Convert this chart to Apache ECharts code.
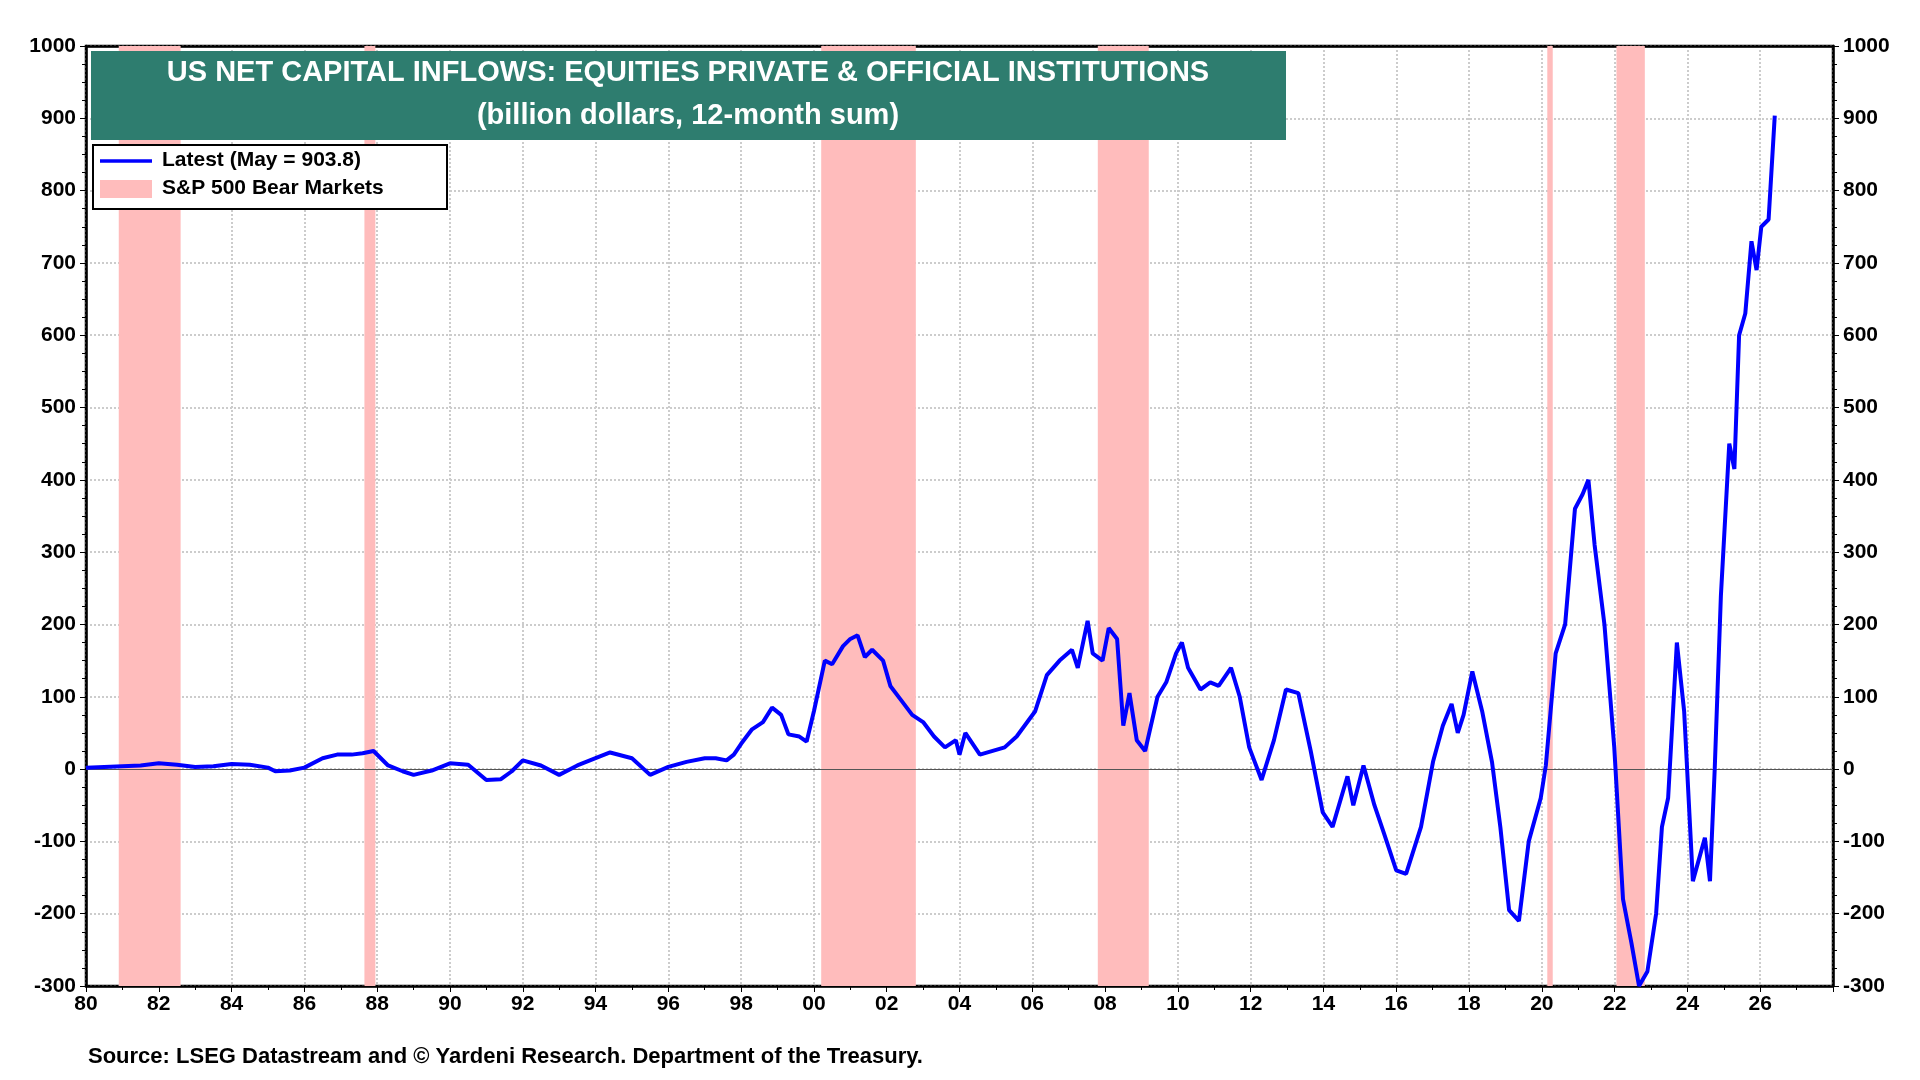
<!DOCTYPE html>
<html><head><meta charset="utf-8">
<script src="https://cdn.jsdelivr.net/npm/echarts@6/dist/echarts.min.js"></script>
<style>html,body{margin:0;padding:0;background:#fff}#c{width:1920px;height:1080px}</style>
</head><body><div id="c"></div>
<script>
const years = [1980,1980.5,1981,1981.5,1982,1982.5,1983,1983.5,1984,1984.5,1985,1985.2,1985.6,1986,1986.5,1986.9,1987.3,1987.6,1987.9,1988.3,1988.7,1989,1989.5,1990,1990.5,1991,1991.4,1991.7,1992,1992.5,1993,1993.5,1994,1994.4,1995,1995.5,1996,1996.5,1997,1997.3,1997.6,1997.8,1998,1998.3,1998.6,1998.85,1999.1,1999.3,1999.6,1999.8,2000,2000.3,2000.5,2000.8,2001,2001.2,2001.4,2001.6,2001.9,2002.1,2002.4,2002.7,2003,2003.3,2003.6,2003.9,2004,2004.16,2004.56,2005.24,2005.57,2006.08,2006.4,2006.75,2007.09,2007.25,2007.52,2007.66,2007.93,2008.1,2008.33,2008.5,2008.67,2008.87,2009.1,2009.44,2009.68,2009.95,2010.11,2010.28,2010.62,2010.89,2011.12,2011.46,2011.7,2011.96,2012.3,2012.64,2012.97,2013.31,2013.65,2013.98,2014.25,2014.66,2014.82,2015.1,2015.4,2015.67,2016.0,2016.27,2016.68,2017.01,2017.28,2017.52,2017.69,2017.85,2018.09,2018.36,2018.63,2018.86,2019.1,2019.37,2019.64,2019.97,2020.11,2020.38,2020.64,2020.91,2021.12,2021.28,2021.45,2021.72,2021.99,2022.23,2022.46,2022.67,2022.9,2023.14,2023.3,2023.47,2023.71,2023.91,2024.15,2024.48,2024.62,2024.75,2024.92,2025.15,2025.29,2025.42,2025.59,2025.76,2025.9,2026.03,2026.23,2026.4];
const values = [2,3,4,5,8,6,3,4,7,6,2,-3,-2,2,15,20,20,22,25,5,-3,-8,-2,8,6,-15,-14,-3,12,5,-8,5,15,23,15,-8,3,10,15,15,12,20,35,55,65,85,75,48,45,38,80,150,145,170,180,185,155,165,150,115,95,75,65,45,30,40,20,50,20,30,45,80,130,150,165,140,205,160,150,195,180,60,105,40,25,100,120,160,175,140,110,120,115,140,100,30,-15,40,110,105,25,-60,-80,-10,-50,5,-50,-90,-140,-145,-80,10,60,90,50,75,135,80,10,-80,-195,-210,-100,-40,5,160,200,360,380,400,310,200,30,-180,-240,-300,-280,-200,-80,-40,175,80,-155,-95,-155,0,240,450,415,600,630,730,690,750,760,903.8];
const bearStarts = [1980.9,1987.65,2000.2,2007.8,2020.15,2022.05];
const bearEnds = [1982.6,1987.95,2002.8,2009.2,2020.3,2022.83];

const chart = echarts.init(document.getElementById('c'));
const F = '"Liberation Sans", Arial, sans-serif';
const axisLab = {fontFamily:F, fontWeight:'bold', fontSize:21, color:'#000'};
const yAxisCommon = {type:'value', min:-300, max:1000, interval:100,
  axisLine:{show:true,lineStyle:{color:'#000',width:2.5}},
  axisTick:{show:true,length:6,lineStyle:{color:'#000'}},
  minorTick:{show:true,splitNumber:4,length:4,lineStyle:{color:'#000'}},
  axisLabel:Object.assign({margin:10,formatter:v=>String(v)},axisLab)};
chart.setOption({
  animation:false,
  grid:{left:86,right:87,top:46,bottom:94,show:true,borderColor:'#000',borderWidth:2.5},
  xAxis:[{type:'value',min:1980,max:2028,interval:2,
    axisLine:{onZero:false,lineStyle:{color:'#000',width:2.5}},
    axisTick:{length:6,lineStyle:{color:'#000'}},
    minorTick:{show:true,splitNumber:2,length:4,lineStyle:{color:'#000'}},
    splitLine:{show:true,lineStyle:{color:'#ccc',type:'dotted',width:2}},
    axisLabel:Object.assign({margin:8,formatter:v=> v>=2028?'':String(v%100).padStart(2,'0')},axisLab)},
    {type:'value',position:'top',min:1980,max:2028,interval:2,
    axisLine:{onZero:false,show:true,lineStyle:{color:'#000',width:2.5}},
    axisTick:{show:false},axisLabel:{show:false},splitLine:{show:false}}],
  yAxis:[Object.assign({position:'left',splitLine:{show:true,lineStyle:{color:'#ccc',type:'dotted',width:2}}},yAxisCommon),
         Object.assign({position:'right',splitLine:{show:false}},yAxisCommon)],
  graphic:[
    {type:'rect',left:91,top:51,shape:{width:1195,height:89},style:{fill:'#2e7d6f'},z:10},
    {type:'text',x:688,y:58,style:{text:'US NET CAPITAL INFLOWS: EQUITIES PRIVATE & OFFICIAL INSTITUTIONS',fill:'#fff',font:'bold 29px '+F,textAlign:'center'},z:11},
    {type:'text',x:688,y:101,style:{text:'(billion dollars, 12-month sum)',fill:'#fff',font:'bold 29px '+F,textAlign:'center'},z:11},
    {type:'rect',left:92,top:144,shape:{width:354,height:64},style:{fill:'#fff',stroke:'#000',lineWidth:2},z:10},
    {type:'line',shape:{x1:100,y1:161,x2:152,y2:161},style:{stroke:'#0000ff',lineWidth:3.5},z:11},
    {type:'rect',shape:{x:100,y:180,width:52,height:18},style:{fill:'#ffbcbc'},z:11},
    {type:'text',x:162,y:150,style:{text:'Latest (May = 903.8)',fill:'#000',font:'bold 21px '+F},z:11},
    {type:'text',x:162,y:178,style:{text:'S&P 500 Bear Markets',fill:'#000',font:'bold 21px '+F},z:11},
    {type:'text',left:88,top:1046,style:{text:'Source: LSEG Datastream and © Yardeni Research. Department of the Treasury.',fill:'#000',font:'bold 22px '+F},z:11}
  ],
  series:[{
    type:'line', data:years.map((y,i)=>[y,values[i]]), showSymbol:false,
    lineStyle:{color:'#0000ff',width:4}, z:5,
    markArea:{silent:true,itemStyle:{color:'#ffbcbc'},data:bearStarts.map((s,i)=>[{xAxis:s},{xAxis:bearEnds[i]}])},
    markLine:{silent:true,symbol:'none',label:{show:false},lineStyle:{color:'#555',type:'solid',width:1.2},data:[{yAxis:0}]}
  }]
});
</script></body></html>
